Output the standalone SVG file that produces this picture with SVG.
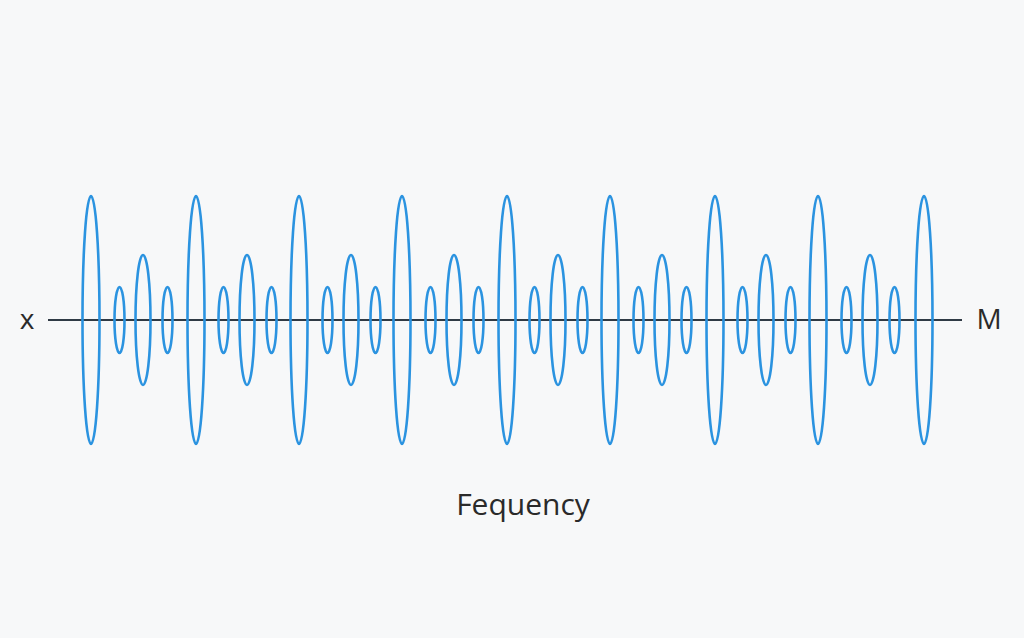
<svg xmlns="http://www.w3.org/2000/svg" width="1024" height="638" viewBox="0 0 1024 638">
<style>
.w{fill:none;stroke:#2b93e0;stroke-width:2.6}
.t{font-family:"Open Sans","Noto Sans",sans-serif;fill:#2a2a2a}
</style>
<rect width="1024" height="638" fill="#f7f8f9"/>
<g id="axis"><line x1="48" y1="320" x2="962" y2="320" stroke="#2f3a45" stroke-width="2"/></g>
<g id="wave">
<ellipse class="w" cx="91" cy="320" rx="8.5" ry="124"/>
<ellipse class="w" cx="196" cy="320" rx="8.5" ry="124"/>
<ellipse class="w" cx="299" cy="320" rx="8.5" ry="124"/>
<ellipse class="w" cx="402" cy="320" rx="8.5" ry="124"/>
<ellipse class="w" cx="507" cy="320" rx="8.5" ry="124"/>
<ellipse class="w" cx="610" cy="320" rx="8.5" ry="124"/>
<ellipse class="w" cx="715" cy="320" rx="8.5" ry="124"/>
<ellipse class="w" cx="818" cy="320" rx="8.5" ry="124"/>
<ellipse class="w" cx="924" cy="320" rx="8.5" ry="124"/>
<g id="g1"><ellipse class="w" cx="119.5" cy="320" rx="5" ry="33"/><ellipse class="w" cx="143" cy="320" rx="7.5" ry="65"/><ellipse class="w" cx="167.5" cy="320" rx="5" ry="33"/></g>
<use href="#g1" x="104"/>
<use href="#g1" x="208"/>
<use href="#g1" x="311"/>
<use href="#g1" x="415"/>
<use href="#g1" x="519"/>
<use href="#g1" x="623"/>
<use href="#g1" x="727"/>
</g>
<text class="t" x="27" y="329" font-size="28" text-anchor="middle">x</text>
<text class="t" x="989" y="329" font-size="28" text-anchor="middle">M</text>
<text class="t" x="523" y="515" font-size="30" text-anchor="middle">Fequency</text>
</svg>
